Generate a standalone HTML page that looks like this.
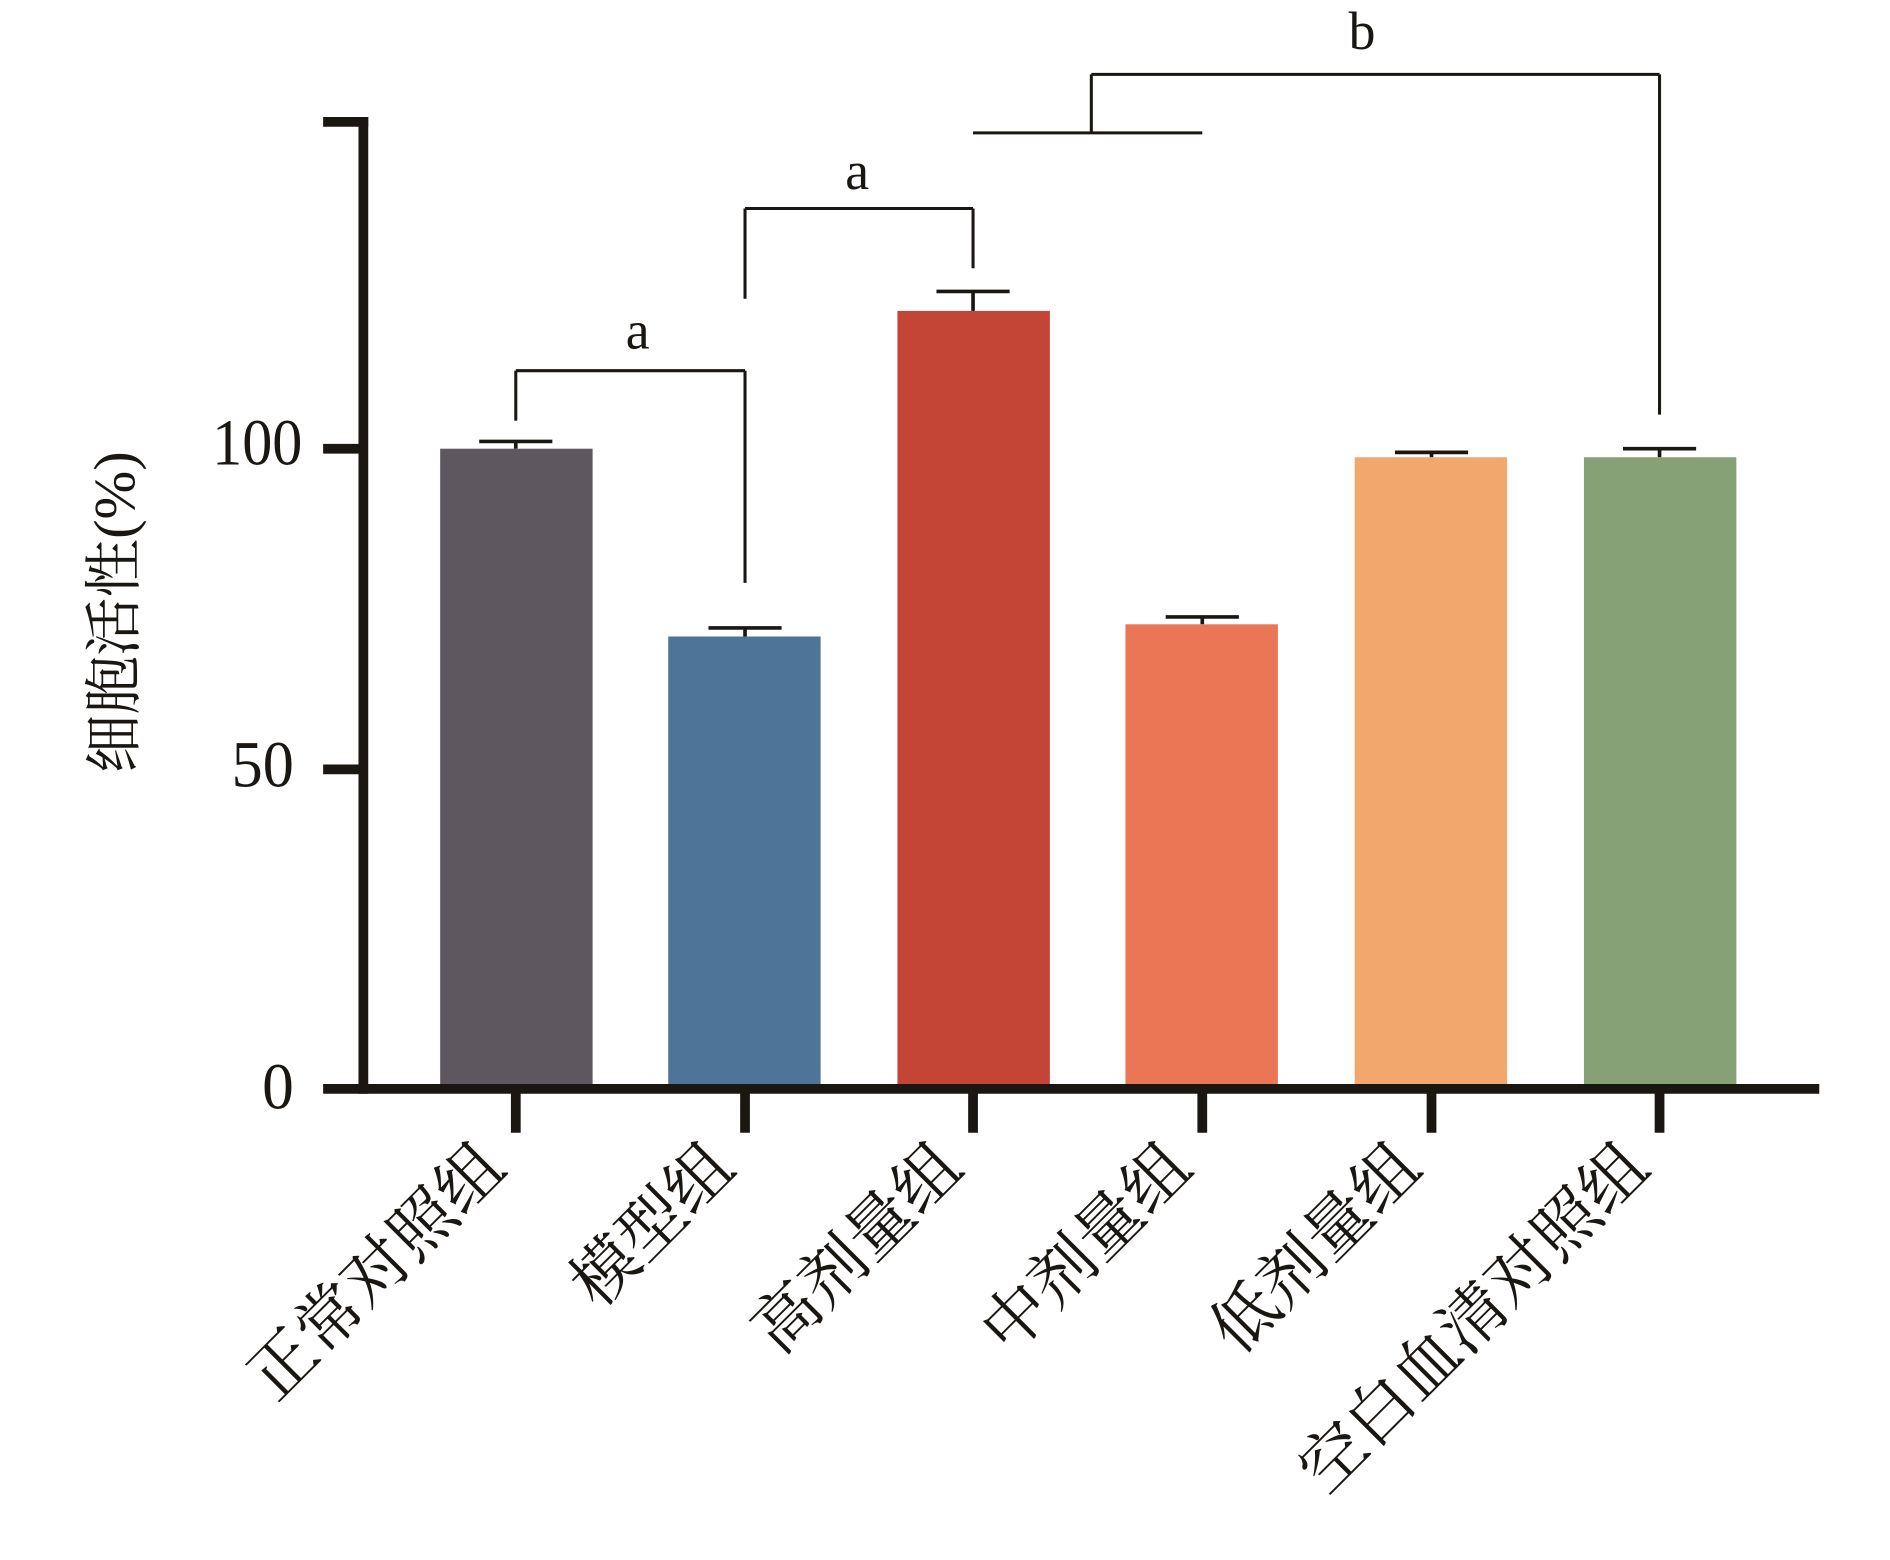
<!DOCTYPE html>
<html><head><meta charset="utf-8"><style>html,body{margin:0;padding:0;background:#fff}svg{display:block}</style></head>
<body>
<svg width="1890" height="1560" viewBox="0 0 1550 1279.4" preserveAspectRatio="none" xmlns="http://www.w3.org/2000/svg">
<g fill="none" stroke="#1a1612" stroke-width="2.5">
<line x1="423" y1="345" x2="423" y2="304"/><line x1="423" y1="304" x2="611" y2="304"/><line x1="611" y1="304" x2="611" y2="478"/>
<line x1="611" y1="245" x2="611" y2="171"/><line x1="611" y1="171" x2="798" y2="171"/><line x1="798" y1="171" x2="798" y2="220"/>
<line x1="798" y1="109" x2="986" y2="109"/><line x1="895" y1="109" x2="895" y2="61"/><line x1="895" y1="61" x2="1361" y2="61"/><line x1="1361" y1="61" x2="1361" y2="340"/>
</g>
<g font-family="Liberation Serif, serif" font-size="44" fill="#1a1612" text-anchor="middle">
<text x="523" y="286">a</text><text x="703" y="155">a</text><text x="1117" y="40">b</text>
</g>
<g stroke="#1a1612" stroke-width="3">
<line x1="423" y1="368" x2="423" y2="362"/><line x1="393" y1="362" x2="453" y2="362"/>
<line x1="611" y1="522" x2="611" y2="515"/><line x1="581" y1="515" x2="641" y2="515"/>
<line x1="798" y1="255" x2="798" y2="239"/><line x1="768" y1="239" x2="828" y2="239"/>
<line x1="986" y1="512" x2="986" y2="506"/><line x1="956" y1="506" x2="1016" y2="506"/>
<line x1="1174" y1="375" x2="1174" y2="371"/><line x1="1144" y1="371" x2="1204" y2="371"/>
<line x1="1361" y1="375" x2="1361" y2="368"/><line x1="1331" y1="368" x2="1391" y2="368"/>
</g>
<rect x="361" y="368" width="125" height="525" fill="#5f575f"/>
<rect x="548" y="522" width="125" height="371" fill="#4e7597"/>
<rect x="736" y="255" width="125" height="638" fill="#c44436"/>
<rect x="923" y="512" width="125" height="381" fill="#ea7655"/>
<rect x="1111" y="375" width="125" height="518" fill="#f2a76d"/>
<rect x="1299" y="375" width="125" height="518" fill="#87a176"/>
<g stroke="#1a1612" stroke-width="8">
<line x1="298" y1="96" x2="298" y2="897"/><line x1="265" y1="100" x2="302" y2="100"/>
<line x1="265" y1="893" x2="1492" y2="893"/>
<line x1="265" y1="631" x2="298" y2="631"/><line x1="265" y1="368" x2="298" y2="368"/>
<line x1="423" y1="893" x2="423" y2="929"/><line x1="611" y1="893" x2="611" y2="929"/><line x1="798" y1="893" x2="798" y2="929"/>
<line x1="986" y1="893" x2="986" y2="929"/><line x1="1174" y1="893" x2="1174" y2="929"/><line x1="1361" y1="893" x2="1361" y2="929"/>
</g>
<g font-family="Liberation Serif, serif" font-size="54" fill="#1a1612" text-anchor="end">
<text x="248" y="381" textLength="74" lengthAdjust="spacingAndGlyphs">100</text>
<text x="241" y="645" textLength="51" lengthAdjust="spacingAndGlyphs">50</text>
<text x="241" y="909" textLength="26" lengthAdjust="spacingAndGlyphs">0</text>
</g>
<text transform="translate(110,502) rotate(-90)" font-family="Liberation Serif, 'Noto Serif CJK SC', serif" font-size="48" fill="#1a1612" text-anchor="middle">细胞活性(%)</text>
<g font-family="'Noto Serif CJK SC', serif" font-size="54" fill="#1a1612" text-anchor="end">
<text transform="translate(417,960) rotate(-45)">正常对照组</text>
<text transform="translate(605,960) rotate(-45)">模型组</text>
<text transform="translate(792,960) rotate(-45)">高剂量组</text>
<text transform="translate(980,960) rotate(-45)">中剂量组</text>
<text transform="translate(1168,960) rotate(-45)">低剂量组</text>
<text transform="translate(1355,960) rotate(-45)">空白血清对照组</text>
</g>
</svg>
</body></html>
